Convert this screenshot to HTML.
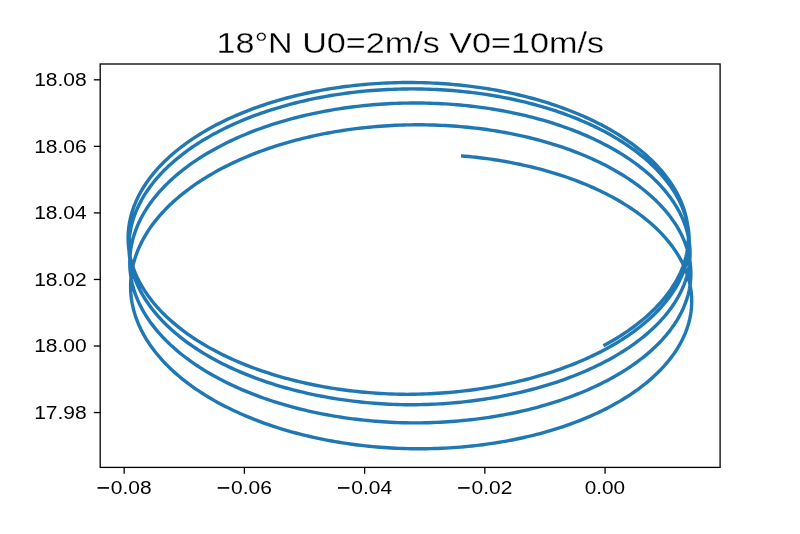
<!DOCTYPE html><html><head><meta charset="utf-8"><style>html,body{margin:0;padding:0;background:#fff;}svg{display:block;will-change:transform;}text{font-family:"Liberation Sans",sans-serif;fill:#000;stroke:#fff;stroke-width:0.3px;}</style></head><body><svg width="800" height="534" viewBox="0 0 800 534"><rect x="0" y="0" width="800" height="534" fill="#fff"/><polyline points="603.42,345.82 606.15,344.34 608.84,342.83 611.50,341.31 614.12,339.77 616.69,338.21 619.23,336.64 621.73,335.04 624.19,333.43 626.61,331.80 628.99,330.16 631.33,328.50 633.62,326.82 635.88,325.13 638.09,323.42 640.26,321.69 642.38,319.95 644.46,318.20 646.50,316.43 648.49,314.65 650.44,312.86 652.34,311.05 654.20,309.23 656.01,307.39 657.77,305.55 659.49,303.69 661.16,301.82 662.78,299.94 664.36,298.05 665.89,296.15 667.37,294.23 668.80,292.31 670.18,290.38 671.52,288.43 672.80,286.48 674.04,284.52 675.22,282.56 676.36,280.58 677.44,278.60 678.48,276.61 679.46,274.61 680.40,272.61 681.28,270.60 682.11,268.58 682.89,266.56 683.62,264.53 684.30,262.50 684.93,260.46 685.50,258.42 686.03,256.38 686.50,254.33 686.92,252.28 687.28,250.23 687.60,248.17 687.86,246.12 688.07,244.06 688.23,242.00 688.34,239.93 688.39,237.87 688.39,235.79 688.34,233.67 688.24,231.56 688.09,229.45 687.88,227.34 687.62,225.23 687.31,223.13 686.94,221.03 686.53,218.93 686.06,216.83 685.54,214.74 684.96,212.65 684.34,210.57 683.67,208.49 682.94,206.41 682.16,204.35 681.33,202.28 680.45,200.23 679.52,198.18 678.54,196.14 677.51,194.11 676.43,192.08 675.29,190.06 674.11,188.06 672.88,186.06 671.60,184.07 670.27,182.09 668.89,180.12 667.46,178.16 665.98,176.21 664.46,174.28 662.88,172.35 661.26,170.44 659.60,168.54 657.88,166.65 656.12,164.78 654.31,162.92 652.46,161.07 650.56,159.24 648.62,157.42 646.63,155.62 644.60,153.83 642.52,152.06 640.40,150.30 638.23,148.56 636.02,146.83 633.77,145.13 631.48,143.44 629.15,141.77 626.77,140.11 624.36,138.47 621.90,136.86 619.40,135.26 616.87,133.68 614.29,132.12 611.68,130.57 609.03,129.05 606.34,127.55 603.61,126.07 600.85,124.61 598.05,123.17 595.22,121.75 592.35,120.36 589.45,118.98 586.51,117.63 583.54,116.30 580.54,114.99 577.50,113.71 574.43,112.45 571.34,111.21 568.21,109.99 565.05,108.80 561.86,107.64 558.65,106.49 555.40,105.38 552.13,104.28 548.83,103.21 545.51,102.17 542.16,101.15 538.78,100.16 535.38,99.19 531.96,98.25 528.51,97.33 525.04,96.44 521.55,95.58 518.04,94.74 514.51,93.93 510.96,93.15 507.39,92.39 503.80,91.66 500.19,90.96 496.56,90.28 492.92,89.63 489.26,89.01 485.59,88.42 481.90,87.86 478.20,87.32 474.49,86.81 470.76,86.33 467.03,85.88 463.28,85.45 459.52,85.06 455.75,84.69 451.97,84.35 448.19,84.04 444.39,83.76 440.59,83.51 436.79,83.28 432.98,83.09 429.16,82.92 425.34,82.78 421.52,82.67 417.69,82.59 413.87,82.54 410.04,82.52 406.21,82.52 402.38,82.56 398.55,82.62 394.73,82.72 390.91,82.84 387.09,82.99 383.27,83.17 379.46,83.38 375.65,83.62 371.85,83.88 368.06,84.18 364.28,84.50 360.50,84.85 356.73,85.23 352.97,85.64 349.23,86.08 345.49,86.55 341.76,87.04 338.05,87.56 334.35,88.11 330.67,88.69 326.99,89.30 323.34,89.93 319.70,90.59 316.07,91.28 312.47,91.99 308.88,92.74 305.31,93.51 301.76,94.30 298.23,95.13 294.71,95.98 291.23,96.85 287.76,97.76 284.31,98.69 280.89,99.64 277.49,100.62 274.12,101.63 270.77,102.66 267.45,103.72 264.15,104.80 260.88,105.90 257.64,107.04 254.43,108.19 251.24,109.37 248.08,110.58 244.96,111.80 241.86,113.05 238.80,114.33 235.77,115.63 232.76,116.95 229.80,118.29 226.86,119.65 223.96,121.04 221.10,122.45 218.26,123.88 215.47,125.33 212.71,126.81 209.99,128.30 207.30,129.81 204.65,131.35 202.04,132.90 199.47,134.48 196.93,136.07 194.44,137.68 191.99,139.31 189.57,140.96 187.20,142.63 184.87,144.31 182.58,146.02 180.33,147.74 178.13,149.47 175.97,151.22 173.85,152.99 171.77,154.78 169.74,156.58 167.76,158.40 165.82,160.23 163.92,162.07 162.07,163.93 160.27,165.80 158.51,167.69 156.80,169.59 155.13,171.50 153.52,173.43 151.95,175.37 150.43,177.31 148.95,179.27 147.53,181.25 146.15,183.23 144.82,185.22 143.55,187.22 142.32,189.23 141.14,191.25 140.01,193.28 138.93,195.32 137.90,197.37 136.92,199.42 136.00,201.48 135.12,203.55 134.29,205.62 133.52,207.70 132.80,209.79 132.13,211.88 131.51,213.97 130.94,216.07 130.42,218.18 129.96,220.29 129.54,222.40 129.18,224.51 128.88,226.63 128.62,228.75 128.41,230.87 128.26,233.00 128.16,235.12 128.12,237.24 128.12,239.37 128.18,241.49 128.29,243.62 128.45,245.74 128.67,247.86 128.93,249.98 129.25,252.10 129.62,254.21 130.05,256.32 130.52,258.43 131.05,260.54 131.63,262.64 132.26,264.73 132.94,266.83 133.67,268.91 134.46,270.99 135.29,273.07 136.18,275.13 137.12,277.20 138.11,279.25 139.14,281.30 140.23,283.33 141.37,285.36 142.56,287.39 143.80,289.40 145.09,291.40 146.43,293.39 147.81,295.38 149.25,297.35 150.73,299.31 152.26,301.26 153.84,303.20 155.47,305.12 157.14,307.04 158.86,308.94 160.63,310.83 162.44,312.70 164.30,314.56 166.21,316.41 168.16,318.24 170.15,320.06 172.19,321.86 174.28,323.64 176.41,325.41 178.58,327.17 180.79,328.91 183.05,330.63 185.35,332.33 187.69,334.02 190.07,335.69 192.49,337.34 194.95,338.97 197.45,340.58 200.00,342.18 202.58,343.76 205.20,345.31 207.85,346.85 210.55,348.36 213.28,349.86 216.05,351.33 218.85,352.79 221.69,354.22 224.57,355.63 227.48,357.02 230.42,358.39 233.39,359.73 236.40,361.06 239.44,362.36 242.52,363.63 245.62,364.89 248.75,366.12 251.92,367.32 255.11,368.50 258.33,369.66 261.58,370.80 264.86,371.91 268.16,372.99 271.49,374.05 274.84,375.09 278.23,376.09 281.63,377.08 285.06,378.04 288.51,378.97 291.98,379.87 295.48,380.75 299.00,381.61 302.53,382.43 306.09,383.23 309.67,384.01 313.26,384.75 316.87,385.47 320.50,386.16 324.15,386.83 327.81,387.47 331.49,388.08 335.18,388.66 338.89,389.21 342.60,389.74 346.33,390.23 350.08,390.70 353.83,391.15 357.59,391.56 361.37,391.94 365.15,392.30 368.94,392.63 372.73,392.93 376.54,393.20 380.35,393.44 384.16,393.65 387.98,393.84 391.81,393.99 395.63,394.12 399.46,394.22 403.29,394.29 407.12,394.33 410.96,394.31 414.79,394.25 418.62,394.17 422.45,394.05 426.27,393.91 430.10,393.73 433.91,393.53 437.73,393.30 441.54,393.04 445.34,392.75 449.14,392.44 452.92,392.10 456.70,391.72 460.48,391.32 464.24,390.90 467.99,390.44 471.73,389.96 475.46,389.45 479.17,388.91 482.87,388.34 486.56,387.75 490.24,387.13 493.90,386.48 497.54,385.81 501.16,385.11 504.77,384.38 508.36,383.63 511.94,382.85 515.49,382.05 519.02,381.21 522.54,380.36 526.03,379.48 529.50,378.57 532.95,377.64 536.37,376.68 539.77,375.69 543.15,374.69 546.50,373.66 549.82,372.60 553.12,371.52 556.39,370.42 559.63,369.29 562.85,368.14 566.04,366.97 569.20,365.77 572.32,364.55 575.42,363.31 578.49,362.05 581.52,360.76 584.52,359.46 587.49,358.13 590.43,356.78 593.33,355.41 596.20,354.02 599.03,352.61 601.83,351.17 604.59,349.72 607.31,348.25 610.00,346.76 612.65,345.25 615.26,343.73 617.84,342.18 620.37,340.62 622.87,339.03 625.32,337.43 627.73,335.82 630.11,334.18 632.44,332.53 634.73,330.87 636.98,329.18 639.19,327.48 641.35,325.77 643.47,324.04 645.54,322.30 647.57,320.54 649.56,318.76 651.50,316.98 653.40,315.18 655.25,313.36 657.05,311.54 658.81,309.70 660.52,307.85 662.19,305.98 663.81,304.11 665.38,302.22 666.90,300.33 668.37,298.42 669.80,296.50 671.18,294.58 672.50,292.64 673.78,290.69 675.01,288.74 676.19,286.78 677.32,284.80 678.40,282.83 679.43,280.84 680.41,278.85 681.33,276.85 682.21,274.84 683.04,272.83 683.81,270.81 684.54,268.79 685.21,266.76 685.83,264.73 686.40,262.69 686.91,260.65 687.38,258.61 687.79,256.56 688.15,254.51 688.46,252.46 688.72,250.40 688.92,248.35 689.07,246.29 689.17,244.23 689.22,242.17 689.22,240.09 689.16,237.99 689.05,235.90 688.89,233.80 688.67,231.71 688.41,229.62 688.09,227.53 687.72,225.44 687.29,223.36 686.82,221.28 686.29,219.20 685.72,217.13 685.09,215.06 684.40,213.00 683.67,210.94 682.89,208.89 682.05,206.85 681.16,204.81 680.23,202.78 679.24,200.75 678.20,198.74 677.11,196.73 675.97,194.73 674.79,192.74 673.55,190.75 672.26,188.78 670.92,186.82 669.54,184.87 668.10,182.92 666.62,180.99 665.09,179.07 663.51,177.17 661.89,175.27 660.21,173.39 658.49,171.52 656.72,169.66 654.91,167.82 653.05,165.99 651.15,164.18 649.20,162.37 647.20,160.59 645.16,158.82 643.08,157.06 640.95,155.33 638.78,153.60 636.57,151.90 634.32,150.21 632.02,148.54 629.68,146.88 627.30,145.25 624.88,143.63 622.42,142.03 619.91,140.45 617.37,138.89 614.79,137.34 612.18,135.82 609.52,134.32 606.83,132.83 604.10,131.37 601.33,129.93 598.53,128.51 595.69,127.11 592.82,125.73 589.91,124.38 586.97,123.04 583.99,121.73 580.99,120.45 577.95,119.18 574.88,117.94 571.78,116.72 568.64,115.52 565.48,114.35 562.29,113.20 559.07,112.08 555.82,110.98 552.55,109.91 549.25,108.86 545.92,107.83 542.57,106.83 539.19,105.86 535.78,104.91 532.36,103.99 528.91,103.09 525.44,102.22 521.94,101.38 518.43,100.56 514.89,99.77 511.34,99.00 507.77,98.27 504.17,97.56 500.56,96.87 496.94,96.22 493.29,95.59 489.63,94.99 485.96,94.42 482.27,93.87 478.57,93.36 474.85,92.87 471.13,92.41 467.39,91.97 463.64,91.57 459.88,91.19 456.11,90.85 452.33,90.53 448.54,90.24 444.75,89.98 440.95,89.74 437.14,89.54 433.33,89.36 429.51,89.22 425.69,89.10 421.87,89.01 418.04,88.95 414.22,88.92 410.39,88.92 406.56,88.94 402.73,89.00 398.90,89.08 395.08,89.20 391.26,89.34 387.44,89.51 383.62,89.71 379.81,89.94 376.01,90.20 372.21,90.49 368.42,90.80 364.63,91.15 360.86,91.52 357.09,91.92 353.33,92.35 349.59,92.81 345.85,93.29 342.13,93.81 338.42,94.35 334.72,94.92 331.03,95.52 327.36,96.14 323.71,96.80 320.07,97.48 316.45,98.19 312.84,98.92 309.26,99.69 305.69,100.48 302.14,101.30 298.61,102.14 295.11,103.01 291.62,103.91 288.15,104.83 284.71,105.78 281.29,106.76 277.90,107.76 274.53,108.78 271.18,109.84 267.86,110.91 264.57,112.02 261.30,113.14 258.06,114.29 254.85,115.47 251.67,116.67 248.52,117.90 245.40,119.14 242.31,120.41 239.25,121.71 236.22,123.03 233.22,124.37 230.26,125.73 227.33,127.12 224.43,128.52 221.57,129.95 218.74,131.40 215.95,132.88 213.19,134.37 210.48,135.88 207.79,137.42 205.15,138.97 202.54,140.54 199.98,142.14 197.45,143.75 194.96,145.38 192.51,147.03 190.10,148.70 187.73,150.39 185.41,152.09 183.12,153.82 180.88,155.56 178.68,157.31 176.53,159.09 174.41,160.87 172.34,162.68 170.32,164.50 168.34,166.33 166.40,168.18 164.51,170.05 162.67,171.93 160.87,173.82 159.12,175.73 157.41,177.65 155.76,179.58 154.14,181.52 152.58,183.48 151.07,185.45 149.60,187.43 148.18,189.42 146.81,191.42 145.49,193.43 144.22,195.45 142.99,197.48 141.82,199.52 140.70,201.57 139.63,203.62 138.60,205.69 137.63,207.76 136.71,209.84 135.84,211.93 135.02,214.02 134.25,216.12 133.54,218.22 132.87,220.33 132.26,222.44 131.70,224.56 131.19,226.69 130.73,228.81 130.32,230.94 129.97,233.08 129.67,235.21 129.42,237.35 129.22,239.49 129.07,241.63 128.98,243.77 128.94,245.91 128.95,248.05 129.02,250.20 129.13,252.34 129.30,254.48 129.52,256.62 129.79,258.75 130.12,260.89 130.50,263.02 130.93,265.15 131.41,267.28 131.94,269.40 132.53,271.52 133.16,273.63 133.85,275.74 134.59,277.84 135.38,279.94 136.22,282.03 137.12,284.12 138.06,286.20 139.06,288.27 140.10,290.33 141.20,292.38 142.34,294.43 143.54,296.47 144.78,298.50 146.08,300.52 147.42,302.53 148.81,304.53 150.25,306.51 151.74,308.49 153.28,310.46 154.86,312.41 156.50,314.35 158.18,316.28 159.90,318.20 161.68,320.11 163.50,322.00 165.36,323.87 167.27,325.73 169.23,327.58 171.23,329.41 173.28,331.23 175.36,333.03 177.50,334.82 179.67,336.59 181.89,338.34 184.16,340.08 186.46,341.80 188.80,343.50 191.19,345.19 193.62,346.85 196.09,348.50 198.59,350.13 201.14,351.74 203.73,353.33 206.35,354.90 209.01,356.45 211.71,357.98 214.45,359.49 217.22,360.98 220.03,362.45 222.87,363.90 225.75,365.33 228.66,366.73 231.61,368.11 234.59,369.47 237.60,370.81 240.65,372.12 243.72,373.42 246.83,374.68 249.97,375.93 253.14,377.15 256.33,378.35 259.56,379.52 262.81,380.67 266.09,381.79 269.40,382.89 272.73,383.96 276.09,385.01 279.47,386.03 282.88,387.03 286.31,388.00 289.77,388.95 293.24,389.87 296.74,390.76 300.26,391.63 303.80,392.47 307.36,393.29 310.94,394.07 314.53,394.83 318.15,395.57 321.78,396.27 325.43,396.95 329.09,397.60 332.77,398.22 336.46,398.82 340.17,399.39 343.89,399.92 347.62,400.44 351.37,400.92 355.12,401.37 358.89,401.80 362.66,402.20 366.44,402.57 370.23,402.91 374.03,403.22 377.84,403.51 381.65,403.76 385.46,403.99 389.28,404.19 393.11,404.35 396.93,404.49 400.76,404.61 404.59,404.69 408.42,404.74 412.26,404.74 416.09,404.71 419.92,404.65 423.75,404.56 427.57,404.44 431.40,404.29 435.21,404.11 439.03,403.91 442.84,403.68 446.64,403.41 450.43,403.12 454.22,402.80 458.00,402.46 461.77,402.08 465.53,401.68 469.28,401.25 473.02,400.79 476.74,400.30 480.46,399.79 484.16,399.25 487.84,398.68 491.52,398.08 495.17,397.46 498.81,396.81 502.44,396.13 506.05,395.43 509.63,394.69 513.20,393.94 516.76,393.15 520.29,392.34 523.80,391.51 527.29,390.65 530.75,389.76 534.20,388.85 537.62,387.91 541.02,386.95 544.39,385.96 547.74,384.95 551.06,383.91 554.35,382.85 557.62,381.77 560.86,380.66 564.07,379.53 567.26,378.37 570.41,377.20 573.53,375.99 576.63,374.77 579.69,373.52 582.72,372.26 585.72,370.96 588.68,369.65 591.62,368.32 594.51,366.96 597.38,365.59 600.21,364.19 603.00,362.77 605.75,361.34 608.47,359.88 611.16,358.40 613.80,356.91 616.41,355.39 618.98,353.86 621.51,352.31 624.00,350.74 626.45,349.15 628.86,347.54 631.23,345.92 633.55,344.28 635.84,342.62 638.08,340.95 640.28,339.26 642.44,337.56 644.55,335.84 646.62,334.10 648.65,332.35 650.63,330.59 652.57,328.81 654.46,327.01 656.30,325.21 658.10,323.39 659.85,321.56 661.56,319.71 663.22,317.86 664.83,315.99 666.39,314.11 667.91,312.22 669.38,310.32 670.80,308.41 672.17,306.48 673.49,304.55 674.76,302.61 675.98,300.66 677.16,298.70 678.28,296.74 679.35,294.76 680.38,292.78 681.35,290.79 682.27,288.80 683.14,286.79 683.96,284.79 684.73,282.77 685.45,280.75 686.11,278.73 686.73,276.70 687.29,274.67 687.80,272.63 688.26,270.59 688.66,268.54 689.02,266.50 689.32,264.45 689.57,262.40 689.77,260.34 689.91,258.29 690.01,256.24 690.05,254.18 690.04,252.11 689.97,250.03 689.86,247.95 689.69,245.87 689.47,243.79 689.19,241.71 688.87,239.64 688.49,237.57 688.06,235.50 687.58,233.44 687.05,231.38 686.46,229.32 685.83,227.27 685.14,225.23 684.40,223.19 683.61,221.15 682.77,219.12 681.88,217.10 680.93,215.08 679.94,213.08 678.89,211.08 677.80,209.09 676.65,207.10 675.46,205.13 674.22,203.16 672.92,201.21 671.58,199.26 670.19,197.33 668.75,195.40 667.26,193.49 665.72,191.59 664.14,189.70 662.50,187.82 660.83,185.95 659.10,184.10 657.33,182.26 655.51,180.43 653.64,178.62 651.73,176.83 649.78,175.04 647.78,173.28 645.73,171.52 643.65,169.79 641.51,168.07 639.34,166.36 637.12,164.67 634.86,163.00 632.56,161.35 630.21,159.71 627.83,158.09 625.40,156.49 622.93,154.91 620.43,153.35 617.88,151.81 615.30,150.28 612.67,148.78 610.01,147.29 607.31,145.83 604.58,144.39 601.81,142.96 599.00,141.56 596.16,140.18 593.28,138.82 590.37,137.48 587.43,136.17 584.45,134.88 581.44,133.61 578.39,132.36 575.32,131.14 572.21,129.94 569.08,128.76 565.91,127.61 562.72,126.48 559.49,125.38 556.24,124.30 552.97,123.24 549.66,122.21 546.33,121.20 542.97,120.22 539.59,119.27 536.19,118.34 532.76,117.44 529.30,116.56 525.83,115.71 522.33,114.89 518.82,114.09 515.28,113.32 511.72,112.57 508.15,111.86 504.55,111.17 500.94,110.50 497.31,109.87 493.66,109.26 490.00,108.68 486.33,108.13 482.64,107.60 478.93,107.10 475.22,106.63 471.49,106.19 467.75,105.78 463.99,105.40 460.23,105.04 456.46,104.71 452.68,104.42 448.90,104.15 445.10,103.90 441.30,103.69 437.49,103.51 433.68,103.35 429.86,103.23 426.04,103.13 422.22,103.06 418.39,103.02 414.56,103.01 410.74,103.03 406.91,103.08 403.08,103.15 399.25,103.26 395.43,103.39 391.61,103.55 387.79,103.75 383.97,103.97 380.16,104.22 376.36,104.49 372.56,104.80 368.77,105.14 364.99,105.50 361.21,105.89 357.45,106.32 353.69,106.77 349.95,107.24 346.21,107.75 342.49,108.29 338.78,108.85 335.08,109.44 331.40,110.06 327.73,110.71 324.08,111.38 320.45,112.08 316.83,112.81 313.22,113.57 309.64,114.35 306.07,115.16 302.53,116.00 299.00,116.87 295.50,117.76 292.01,118.67 288.55,119.62 285.11,120.59 281.70,121.58 278.30,122.61 274.94,123.65 271.59,124.72 268.28,125.82 264.99,126.95 261.72,128.09 258.49,129.27 255.28,130.46 252.10,131.68 248.96,132.93 245.84,134.20 242.75,135.49 239.69,136.80 236.67,138.14 233.67,139.50 230.72,140.88 227.79,142.29 224.90,143.72 222.04,145.17 219.22,146.64 216.43,148.13 213.68,149.64 210.97,151.18 208.29,152.73 205.65,154.30 203.05,155.90 200.49,157.51 197.96,159.15 195.48,160.80 193.03,162.47 190.63,164.16 188.27,165.86 185.95,167.59 183.67,169.33 181.43,171.09 179.24,172.87 177.09,174.66 174.98,176.47 172.92,178.29 170.90,180.13 168.92,181.99 166.99,183.85 165.11,185.74 163.27,187.64 161.48,189.55 159.73,191.47 158.03,193.41 156.38,195.36 154.77,197.33 153.21,199.30 151.71,201.29 150.24,203.29 148.83,205.30 147.47,207.32 146.15,209.35 144.89,211.39 143.67,213.44 142.50,215.50 141.39,217.56 140.32,219.64 139.30,221.72 138.34,223.81 137.42,225.91 136.56,228.02 135.75,230.13 134.99,232.24 134.28,234.37 133.62,236.49 133.01,238.63 132.45,240.76 131.95,242.90 131.50,245.05 131.10,247.20 130.75,249.35 130.46,251.50 130.21,253.66 130.02,255.82 129.88,257.97 129.80,260.13 129.76,262.29 129.78,264.45 129.85,266.61 129.97,268.77 130.15,270.93 130.38,273.09 130.66,275.24 130.99,277.39 131.37,279.54 131.81,281.69 132.30,283.84 132.84,285.97 133.43,288.11 134.07,290.24 134.77,292.37 135.51,294.49 136.31,296.60 137.16,298.71 138.06,300.81 139.01,302.91 140.01,304.99 141.06,307.07 142.16,309.15 143.31,311.21 144.51,313.26 145.77,315.31 147.07,317.35 148.42,319.37 149.81,321.39 151.26,323.39 152.76,325.39 154.30,327.37 155.89,329.34 157.53,331.30 159.21,333.24 160.95,335.18 162.73,337.10 164.55,339.00 166.42,340.90 168.34,342.77 170.30,344.64 172.31,346.49 174.36,348.32 176.45,350.14 178.59,351.94 180.77,353.72 183.00,355.49 185.26,357.25 187.57,358.98 189.92,360.70 192.32,362.40 194.75,364.08 197.22,365.74 199.73,367.39 202.28,369.01 204.87,370.62 207.50,372.20 210.17,373.77 212.87,375.32 215.61,376.84 218.39,378.35 221.20,379.83 224.05,381.29 226.94,382.73 229.85,384.15 232.80,385.55 235.79,386.92 238.80,388.27 241.85,389.60 244.93,390.91 248.04,392.19 251.18,393.45 254.36,394.69 257.56,395.90 260.78,397.08 264.04,398.25 267.32,399.38 270.63,400.50 273.97,401.59 277.33,402.65 280.72,403.69 284.13,404.70 287.56,405.68 291.02,406.64 294.50,407.58 298.00,408.49 301.52,409.37 305.07,410.22 308.63,411.05 312.21,411.85 315.81,412.62 319.42,413.37 323.06,414.09 326.71,414.78 330.37,415.45 334.05,416.08 337.75,416.69 341.46,417.27 345.18,417.82 348.91,418.35 352.66,418.85 356.41,419.31 360.18,419.75 363.95,420.17 367.74,420.55 371.53,420.90 375.33,421.23 379.13,421.53 382.94,421.79 386.76,422.03 390.58,422.25 394.41,422.43 398.23,422.58 402.06,422.71 405.89,422.80 409.73,422.87 413.56,422.89 417.39,422.88 421.22,422.85 425.05,422.78 428.87,422.69 432.69,422.56 436.51,422.41 440.33,422.23 444.13,422.02 447.93,421.79 451.73,421.52 455.51,421.23 459.29,420.91 463.06,420.56 466.82,420.18 470.57,419.77 474.30,419.33 478.03,418.87 481.74,418.38 485.44,417.86 489.13,417.32 492.80,416.74 496.45,416.14 500.09,415.52 503.71,414.86 507.32,414.18 510.90,413.47 514.47,412.74 518.02,411.98 521.55,411.19 525.06,410.37 528.54,409.53 532.01,408.67 535.45,407.78 538.87,406.86 542.26,405.92 545.63,404.95 548.97,403.96 552.29,402.94 555.58,401.90 558.85,400.83 562.09,399.74 565.29,398.63 568.47,397.49 571.62,396.33 574.75,395.15 577.83,393.94 580.89,392.71 583.92,391.46 586.91,390.19 589.87,388.89 592.80,387.57 595.70,386.23 598.56,384.87 601.38,383.49 604.17,382.08 606.92,380.66 609.63,379.22 612.31,377.75 614.95,376.27 617.56,374.77 620.12,373.25 622.64,371.71 625.13,370.15 627.57,368.57 629.98,366.98 632.34,365.37 634.66,363.74 636.94,362.09 639.18,360.43 641.38,358.75 643.53,357.05 645.64,355.34 647.70,353.61 649.72,351.87 651.70,350.12 653.63,348.35 655.51,346.56 657.35,344.76 659.15,342.95 660.89,341.13 662.59,339.29 664.25,337.44 665.85,335.58 667.41,333.70 668.92,331.82 670.38,329.92 671.79,328.02 673.16,326.10 674.48,324.18 675.74,322.24 676.96,320.30 678.13,318.34 679.24,316.38 680.31,314.41 681.33,312.43 682.29,310.45 683.21,308.45 684.07,306.46 684.88,304.45 685.65,302.44 686.36,300.43 687.02,298.40 687.62,296.38 688.18,294.35 688.68,292.32 689.14,290.28 689.54,288.24 689.88,286.19 690.18,284.15 690.42,282.10 690.61,280.05 690.75,278.00 690.84,275.95 690.87,273.90 690.86,271.83 690.79,269.77 690.66,267.71 690.49,265.64 690.26,263.58 689.98,261.52 689.65,259.46 689.27,257.41 688.83,255.36 688.34,253.31 687.80,251.27 687.21,249.23 686.57,247.19 685.88,245.16 685.13,243.14 684.33,241.12 683.49,239.11 682.59,237.10 681.64,235.10 680.64,233.11 679.59,231.13 678.48,229.15 677.33,227.19 676.13,225.23 674.88,223.28 673.58,221.34 672.23,219.41 670.84,217.50 669.39,215.59 667.89,213.69 666.35,211.81 664.76,209.94 663.12,208.07 661.44,206.23 659.71,204.39 657.93,202.57 656.10,200.76 654.23,198.97 652.32,197.19 650.36,195.42 648.35,193.67 646.30,191.94 644.21,190.22 642.07,188.52 639.89,186.83 637.67,185.16 635.40,183.51 633.09,181.87 630.74,180.25 628.35,178.65 625.92,177.07 623.45,175.51 620.94,173.96 618.39,172.44 615.80,170.93 613.17,169.45 610.50,167.98 607.80,166.53 605.06,165.11 602.29,163.71 599.48,162.32 596.63,160.96 593.75,159.62 590.83,158.30 587.88,157.01 584.90,155.73 581.88,154.48 578.84,153.26 575.76,152.05 572.65,150.87 569.51,149.71 566.34,148.58 563.14,147.47 559.92,146.38 556.66,145.32 553.38,144.29 550.07,143.28 546.74,142.29 543.38,141.33 539.99,140.40 536.59,139.49 533.15,138.60 529.70,137.74 526.22,136.91 522.72,136.11 519.20,135.33 515.66,134.58 512.10,133.85 508.53,133.16 504.93,132.49 501.31,131.84 497.68,131.23 494.04,130.64 490.37,130.08 486.69,129.55 483.00,129.04 479.30,128.56 475.58,128.11 471.85,127.69 468.11,127.30 464.35,126.94 460.59,126.60 456.82,126.29 453.04,126.02 449.25,125.77 445.45,125.54 441.65,125.35 437.84,125.19 434.03,125.05 430.21,124.95 426.39,124.87 422.57,124.82 418.74,124.80 414.91,124.81 411.09,124.85 407.26,124.92 403.43,125.02 399.60,125.14 395.78,125.30 391.96,125.48 388.14,125.69 384.33,125.93 380.52,126.20 376.71,126.50 372.92,126.83 369.13,127.19 365.34,127.57 361.57,127.98 357.81,128.43 354.05,128.90 350.31,129.40 346.57,129.92 342.85,130.48 339.15,131.06 335.45,131.67 331.77,132.31 328.10,132.98 324.45,133.67 320.82,134.40 317.20,135.15 313.60,135.92 310.02,136.73 306.46,137.56 302.91,138.42 299.39,139.30 295.89,140.21 292.41,141.15 288.95,142.12 285.51,143.11 282.10,144.12 278.71,145.17 275.34,146.23 272.01,147.33 268.69,148.44 265.41,149.59 262.15,150.76 258.91,151.95 255.71,153.16 252.54,154.41 249.39,155.67 246.28,156.96 243.19,158.27 240.14,159.61 237.12,160.97 234.13,162.35 231.18,163.75 228.25,165.18 225.37,166.62 222.51,168.09 219.69,169.58 216.91,171.10 214.17,172.63 211.46,174.18 208.78,175.76 206.15,177.35 203.55,178.97 200.99,180.60 198.48,182.25 196.00,183.92 193.56,185.61 191.16,187.32 188.80,189.05 186.49,190.79 184.21,192.56 181.98,194.33 179.79,196.13 177.65,197.94 175.55,199.77 173.49,201.61 171.47,203.47 169.50,205.35 167.58,207.24 165.70,209.14 163.87,211.06 162.08,212.99 160.34,214.93 158.65,216.89 157.00,218.86 155.40,220.85 153.85,222.84 152.35,224.85 150.89,226.86 149.48,228.89 148.13,230.93 146.82,232.98 145.56,235.04 144.35,237.11 143.19,239.19 142.08,241.27 141.02,243.37 140.01,245.47 139.05,247.58 138.14,249.69 137.28,251.82 136.48,253.95 135.72,256.08 135.02,258.22 134.36,260.37 133.76,262.52 133.21,264.68 132.72,266.84 132.27,269.00 131.88,271.17 131.54,273.33 131.25,275.51 131.01,277.68 130.83,279.86 130.70,282.03 130.62,284.21 130.59,286.39 130.61,288.57 130.69,290.74 130.82,292.92 131.00,295.10 131.23,297.27 131.52,299.44 131.86,301.61 132.25,303.78 132.69,305.94 133.19,308.10 133.73,310.26 134.33,312.41 134.98,314.56 135.68,316.70 136.43,318.84 137.24,320.97 138.09,323.10 139.00,325.22 139.95,327.33 140.96,329.43 142.02,331.53 143.13,333.62 144.28,335.70 145.49,337.77 146.75,339.83 148.06,341.89 149.41,343.93 150.82,345.96 152.27,347.98 153.77,349.99 155.32,351.99 156.92,353.98 158.56,355.95 160.25,357.91 161.99,359.86 163.77,361.80 165.61,363.72 167.48,365.63 169.40,367.52 171.37,369.40 173.38,371.27 175.44,373.12 177.54,374.95 179.68,376.77 181.87,378.57 184.10,380.35 186.37,382.12 188.69,383.87 191.04,385.61 193.44,387.32 195.88,389.02 198.36,390.70 200.87,392.36 203.43,394.00 206.02,395.62 208.66,397.22 211.33,398.80 214.04,400.36 216.78,401.90 219.56,403.42 222.38,404.92 225.23,406.40 228.12,407.85 231.04,409.28 234.00,410.70 236.99,412.08 240.01,413.45 243.06,414.79 246.14,416.12 249.26,417.41 252.40,418.69 255.58,419.94 258.78,421.16 262.01,422.36 265.27,423.54 268.56,424.69 271.87,425.82 275.21,426.92 278.58,428.00 281.97,429.05 285.38,430.07 288.82,431.07 292.28,432.05 295.76,433.00 299.26,433.92 302.79,434.81 306.33,435.68 309.90,436.52 313.48,437.34 317.08,438.13 320.70,438.89 324.34,439.62 327.99,440.32 331.66,441.00 335.34,441.65 339.03,442.27 342.74,442.87 346.47,443.44 350.20,443.97 353.95,444.48 357.70,444.97 361.47,445.42 365.25,445.84 369.03,446.24 372.83,446.61 376.62,446.95 380.43,447.26 384.24,447.54 388.06,447.79 391.88,448.02 395.71,448.21 399.53,448.38 403.36,448.52 407.19,448.63 411.03,448.70 414.86,448.75 418.69,448.77 422.52,448.76 426.35,448.72 430.17,448.65 433.99,448.55 437.81,448.43 441.62,448.27 445.43,448.09 449.23,447.88 453.02,447.63 456.81,447.37 460.59,447.07 464.35,446.74 468.11,446.39 471.86,446.00 475.59,445.59 479.32,445.16 483.03,444.69 486.72,444.19 490.41,443.67 494.08,443.12 497.73,442.55 501.37,441.94 504.99,441.31 508.59,440.65 512.17,439.96 515.74,439.25 519.28,438.51 522.81,437.74 526.32,436.95 529.80,436.13 533.26,435.29 536.70,434.42 540.11,433.52 543.50,432.60 546.87,431.65 550.21,430.68 553.53,429.68 556.82,428.66 560.08,427.61 563.31,426.54 566.52,425.44 569.69,424.33 572.84,423.18 575.96,422.02 579.04,420.83 582.10,419.61 585.12,418.38 588.11,417.12 591.07,415.84 593.99,414.53 596.88,413.21 599.73,411.86 602.55,410.50 605.34,409.11 608.08,407.70 610.79,406.27 613.47,404.82 616.10,403.35 618.70,401.86 621.26,400.35 623.78,398.82 626.26,397.27 628.70,395.71 631.10,394.12 633.46,392.52 635.77,390.90 638.05,389.27 640.28,387.61 642.47,385.94 644.62,384.26 646.72,382.56 648.78,380.84 650.79,379.11 652.76,377.36 654.69,375.60 656.57,373.82 658.40,372.03 660.19,370.22 661.93,368.41 663.63,366.57 665.27,364.73 666.87,362.88 668.42,361.01 669.93,359.13 671.38,357.24 672.79,355.34 674.15,353.43 675.46,351.51 676.72,349.58 677.93,347.64 679.09,345.69 680.20,343.73 681.26,341.76 682.27,339.79 683.23,337.81 684.14,335.82 685.00,333.83 685.81,331.83 686.56,329.82 687.27,327.81 687.92,325.79 688.52,323.77 689.07,321.74 689.57,319.71 690.01,317.68 690.41,315.64 690.75,313.60 691.04,311.56 691.27,309.51 691.46,307.47 691.59,305.42 691.67,303.37 691.70,301.32 691.68,299.27 691.60,297.22 691.47,295.18 691.29,293.13 691.05,291.08 690.77,289.04 690.43,287.00 690.04,284.96 689.60,282.93 689.11,280.89 688.56,278.87 687.96,276.84 687.31,274.82 686.61,272.81 685.86,270.80 685.06,268.80 684.20,266.81 683.30,264.82 682.34,262.83 681.33,260.86 680.28,258.89 679.17,256.94 678.01,254.99 676.81,253.04 675.55,251.11 674.24,249.19 672.89,247.28 671.48,245.38 670.03,243.49 668.53,241.61 666.98,239.74 665.39,237.89 663.74,236.04 662.05,234.21 660.31,232.40 658.53,230.59 656.70,228.80 654.82,227.02 652.90,225.26 650.94,223.51 648.92,221.78 646.87,220.07 644.77,218.36 642.63,216.68 640.44,215.01 638.21,213.36 635.94,211.72 633.63,210.11 631.27,208.51 628.88,206.92 626.44,205.36 623.96,203.82 621.45,202.29 618.89,200.78 616.30,199.30 613.67,197.83 611.00,196.38 608.29,194.95 605.55,193.55 602.76,192.16 599.95,190.80 597.10,189.45 594.21,188.13 591.29,186.83 588.34,185.56 585.35,184.30 582.33,183.07 579.28,181.86 576.20,180.68 573.09,179.51 569.94,178.38 566.77,177.26 563.57,176.17 560.34,175.10 557.08,174.06 553.80,173.05 550.49,172.06 547.15,171.09 543.79,170.15 540.40,169.23 536.99,168.34 533.55,167.48 530.09,166.64 526.61,165.83 523.11,165.04 519.59,164.28 516.05,163.55 512.49,162.85 508.90,162.17 505.31,161.52 501.69,160.90 498.06,160.30 494.41,159.73 490.74,159.19 487.06,158.68 483.37,158.19 479.66,157.74 475.94,157.31 472.21,156.91 468.47,156.53 464.71,156.19 460.95,155.87" fill="none" stroke="#1f77b4" stroke-width="3.4" stroke-linecap="butt" stroke-linejoin="round"/><rect x="100.2" y="64.0" width="619.9" height="403.4" fill="none" stroke="#000" stroke-width="1.3"/><line x1="124.17" y1="467.4" x2="124.17" y2="473.8" stroke="#000" stroke-width="1.3"/><line x1="244.4" y1="467.4" x2="244.4" y2="473.8" stroke="#000" stroke-width="1.3"/><line x1="364.63" y1="467.4" x2="364.63" y2="473.8" stroke="#000" stroke-width="1.3"/><line x1="484.85" y1="467.4" x2="484.85" y2="473.8" stroke="#000" stroke-width="1.3"/><line x1="605.07" y1="467.4" x2="605.07" y2="473.8" stroke="#000" stroke-width="1.3"/><line x1="93.8" y1="79.82" x2="100.2" y2="79.82" stroke="#000" stroke-width="1.3"/><line x1="93.8" y1="146.37" x2="100.2" y2="146.37" stroke="#000" stroke-width="1.3"/><line x1="93.8" y1="212.92" x2="100.2" y2="212.92" stroke="#000" stroke-width="1.3"/><line x1="93.8" y1="279.46" x2="100.2" y2="279.46" stroke="#000" stroke-width="1.3"/><line x1="93.8" y1="346.01" x2="100.2" y2="346.01" stroke="#000" stroke-width="1.3"/><line x1="93.8" y1="412.56" x2="100.2" y2="412.56" stroke="#000" stroke-width="1.3"/><rect x="97.50" y="487.1" width="11.5" height="1.65" fill="#000"/><text x="110.88" y="493.6" font-size="18.8" style="stroke-width:0" textLength="40.77" lengthAdjust="spacingAndGlyphs">0.08</text><rect x="217.73" y="487.1" width="11.5" height="1.65" fill="#000"/><text x="231.11" y="493.6" font-size="18.8" style="stroke-width:0" textLength="40.77" lengthAdjust="spacingAndGlyphs">0.06</text><rect x="337.96" y="487.1" width="11.5" height="1.65" fill="#000"/><text x="351.34" y="493.6" font-size="18.8" style="stroke-width:0" textLength="40.77" lengthAdjust="spacingAndGlyphs">0.04</text><rect x="458.18" y="487.1" width="11.5" height="1.65" fill="#000"/><text x="471.56" y="493.6" font-size="18.8" style="stroke-width:0" textLength="40.77" lengthAdjust="spacingAndGlyphs">0.02</text><text x="584.67" y="493.6" font-size="18.8" style="stroke-width:0" textLength="40.33" lengthAdjust="spacingAndGlyphs">0.00</text><text x="34.17" y="86.02" font-size="18.8" style="stroke-width:0" textLength="52.57" lengthAdjust="spacingAndGlyphs">18.08</text><text x="34.17" y="152.57" font-size="18.8" style="stroke-width:0" textLength="52.57" lengthAdjust="spacingAndGlyphs">18.06</text><text x="34.17" y="219.12" font-size="18.8" style="stroke-width:0" textLength="52.57" lengthAdjust="spacingAndGlyphs">18.04</text><text x="34.17" y="285.66" font-size="18.8" style="stroke-width:0" textLength="52.57" lengthAdjust="spacingAndGlyphs">18.02</text><text x="34.17" y="352.21" font-size="18.8" style="stroke-width:0" textLength="52.57" lengthAdjust="spacingAndGlyphs">18.00</text><text x="34.17" y="418.76" font-size="18.8" style="stroke-width:0" textLength="52.57" lengthAdjust="spacingAndGlyphs">17.98</text><text x="216.40" y="52.85" font-size="29.6" textLength="387.66" lengthAdjust="spacingAndGlyphs">18°N U0=2m/s V0=10m/s</text></svg></body></html>
